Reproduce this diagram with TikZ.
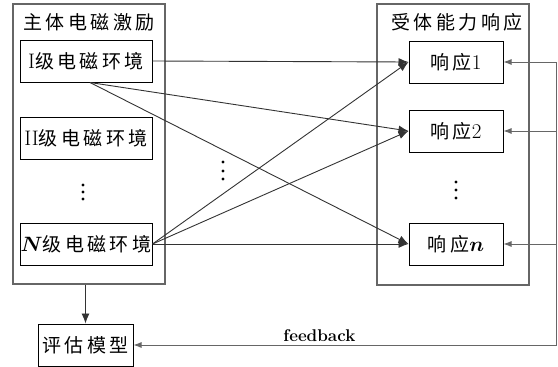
\documentclass[tikz,border=0pt]{standalone}
\usepackage{amsmath}
\usepackage{fontspec}
\newfontfamily\cjk[LetterSpace=18]{Noto Sans CJK SC}
\usepackage{tikz}
\usetikzlibrary{arrows.meta,positioning}
\usepackage{xcolor}
\definecolor{boxgray}{RGB}{102,102,102}
\definecolor{linegray}{RGB}{51,51,51}
\newcommand{\lat}[1]{{\rmfamily\fontsize{21}{23}\selectfont #1}}
\tikzstyle{arrow} = [line width=0.9pt,-{Latex[length=10pt,width=8pt]},color=linegray]
\tikzstyle{fbarrow} = [line width=0.9pt,-{Latex[length=8pt,width=6pt]},color=boxgray]
\tikzstyle{group} = [rectangle, draw=boxgray, line width=1.2pt, minimum width=152pt, minimum height=280pt, inner sep=0pt]
\tikzstyle{level} = [rectangle, draw=black, line width=1pt, minimum width=132pt, minimum height=42pt, inner sep=0pt, text centered, font=\cjk\fontsize{19}{21}\selectfont]
\tikzstyle{resp} = [level, minimum width=94pt]
\tikzstyle{caption} = [font=\cjk\fontsize{19}{21}\selectfont]
\tikzstyle{dot} = [circle, fill=black, inner sep=0pt, minimum size=3.2pt]

\begin{document}
\begin{tikzpicture}[x=1pt, y=-1pt]
\useasboundingbox (0,0) rectangle (558,367);
% Emission side
\node (src) [group] at (89,144) {};
\node (srctitle) [caption] at (89,22) {主体电磁激励};
\node (lv1) [level] at (86,61) {\lat{I}级电磁环境};
\node (lv2) [level] at (86,138) {\lat{II}级电磁环境};
\foreach \y in {185,192,199} \node [dot] at (83,\y) {};
\node (lvN) [level] at (86,244) {\lat{\boldmath$N$}级电磁环境};

% Receptor side
\node (rcv) [group, minimum height=281pt] at (453,144.5) {};
\node (rcvtitle) [caption] at (457,22) {受体能力响应};
\node (r1) [resp] at (456,62) {响应\lat{1}};
\node (r2) [resp] at (456,131) {响应\lat{2}};
\foreach \y in {182,190,198} \node [dot] at (456,\y) {};
\node (rN) [resp] at (456,244) {响应\lat{\boldmath$n$}};
\foreach \y in {162,171,179} \node [dot] at (223,\y) {};

% Evaluation
\node (eval) [level, minimum width=95pt] at (85.5,345) {评估模型};
\coordinate (fbtop) at (556,62);

% Couplings
\draw[arrow] (lv1.east) -- (r1.west);
\draw[arrow] ([xshift=4pt]lv1.south) -- (r2.west);
\draw[arrow] ([xshift=4pt]lv1.south) -- (rN.west);
\draw[arrow] (lvN.east) -- (r1.west);
\draw[arrow] (lvN.east) -- (r2.west);
\draw[arrow] (lvN.east) -- (rN.west);
\draw[arrow] (src.south -| eval.north) -- (eval.north);

% Feedback loop
\draw[fbarrow] (fbtop) -- (r1.east);
\draw[fbarrow] (fbtop |- r2.east) -- (r2.east);
\draw[fbarrow] (fbtop |- rN.east) -- (rN.east);
\draw[fbarrow] (fbtop) |- node[above, pos=0.78, font=\bfseries\fontsize{17}{19}\selectfont, text=black] {feedback} (eval.east);
\end{tikzpicture}
\end{document}
